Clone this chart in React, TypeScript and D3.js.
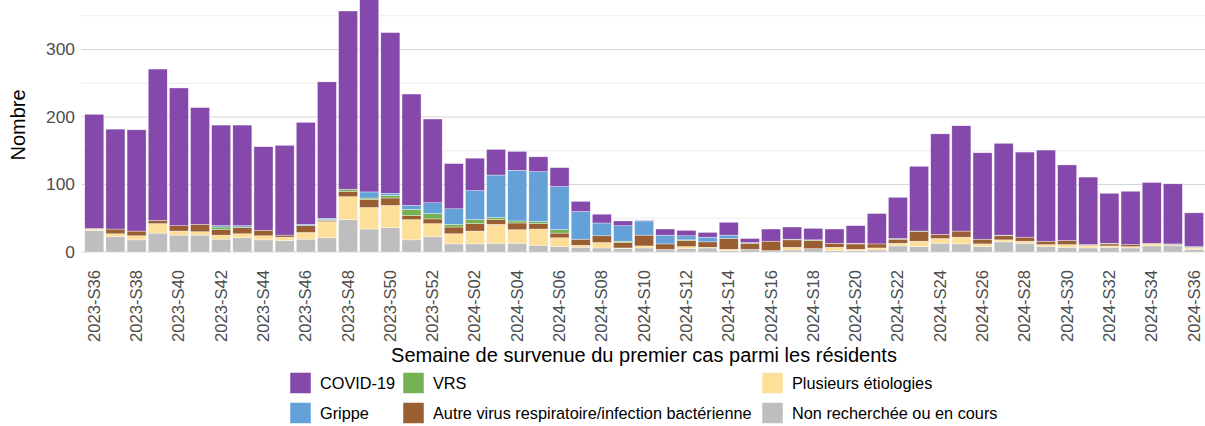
import React from "react";
import * as d3 from "d3";

const weeks = [
  "2023-S36","2023-S37","2023-S38","2023-S39","2023-S40","2023-S41","2023-S42","2023-S43","2023-S44","2023-S45",
  "2023-S46","2023-S47","2023-S48","2023-S49","2023-S50","2023-S51","2023-S52",
  "2024-S01","2024-S02","2024-S03","2024-S04","2024-S05","2024-S06","2024-S07","2024-S08","2024-S09","2024-S10",
  "2024-S11","2024-S12","2024-S13","2024-S14","2024-S15","2024-S16","2024-S17","2024-S18","2024-S19","2024-S20",
  "2024-S21","2024-S22","2024-S23","2024-S24","2024-S25","2024-S26","2024-S27","2024-S28","2024-S29","2024-S30",
  "2024-S31","2024-S32","2024-S33","2024-S34","2024-S35","2024-S36",
];

const nonRecherchee = [32,23,18,28,25,25,19,21,18,17,19,21,48,34,36,18,23,12,12,13,13,10,8,7,6,5,6,4,5,6,2,4,2,3,5,2,2,3,9,8,13,12,8,15,13,8,7,6,7,6,9,10,4];
const plusieurs = [2,4,6,14,6,5,6,6,6,5,10,24,34,32,33,30,19,15,19,28,20,24,13,3,8,1,3,0,3,1,2,0,0,4,0,5,2,3,4,8,7,10,4,3,3,3,4,3,2,2,3,1,2];
const autre = [1,7,7,5,8,11,8,9,8,3,10,2,8,12,11,6,7,10,11,7,10,8,7,9,10,8,16,8,9,8,16,9,14,11,12,6,8,6,6,14,6,9,7,6,6,5,6,1,3,3,1,1,1];
const vrs = [0,0,0,0,0,0,4,1,0,0,0,1,3,2,4,9,8,4,6,3,3,3,5,0,0,2,0,0,1,0,0,0,0,1,1,0,1,0,1,1,0,0,0,1,0,0,0,1,1,0,0,0,1];
const grippe = [0,0,0,0,0,0,2,2,0,0,2,2,0,9,3,6,16,23,43,63,75,74,64,41,19,23,21,13,6,7,5,1,0,0,0,0,0,0,0,0,0,0,0,0,0,0,0,0,0,0,0,0,0];
const covid = [169,148,150,224,204,173,149,149,124,133,151,202,264,291,238,165,124,67,48,38,28,22,28,15,13,7,1,9,8,7,19,6,18,18,17,21,26,45,61,96,149,156,128,136,126,135,112,100,74,79,90,89,50];

const seriesKeys = ["nonRecherchee", "plusieurs", "autre", "vrs", "grippe", "covid"];
const seriesColors: Record<string, string> = {
  covid: "#8449AB",
  grippe: "#65A1D9",
  vrs: "#76B154",
  autre: "#9A5E33",
  plusieurs: "#FEDF99",
  nonRecherchee: "#BEBEBE",
};
const legendRows = [
  [
    { key: "covid", label: "COVID-19" },
    { key: "vrs", label: "VRS" },
    { key: "plusieurs", label: "Plusieurs étiologies" },
  ],
  [
    { key: "grippe", label: "Grippe" },
    { key: "autre", label: "Autre virus respiratoire/infection bactérienne" },
    { key: "nonRecherchee", label: "Non recherchée ou en cours" },
  ],
];
const yMajor = [0, 100, 200, 300];
const yMinor = [50, 150, 250, 350];

const W = 1205;
const H = 426;
const FONT = "'Liberation Sans', Arial, sans-serif";

export default function App() {
  const rows = weeks.map((w, i) => ({
    week: w,
    nonRecherchee: nonRecherchee[i],
    plusieurs: plusieurs[i],
    autre: autre[i],
    vrs: vrs[i],
    grippe: grippe[i],
    covid: covid[i],
  }));
  const stacked = d3.stack<any>().keys(seriesKeys)(rows);

  const x = d3.scaleBand<string>().domain(weeks).range([81.6, 1206.7]).paddingInner(0.1).paddingOuter(0.15);
  const y = d3.scaleLinear().domain([0, 373.3]).range([252, 0]);

  const colX = [290, 403, 762];
  const rowY = [383, 413];

  return (
    <svg width={W} height={H} style={{ position: "absolute", left: 0, top: 0, background: "#fff" }} fontFamily={FONT}>
      <defs>
        <clipPath id="panel">
          <rect x={81} y={0} width={W - 81} height={253} />
        </clipPath>
      </defs>
      {yMinor.map((v) => (
        <line key={"mi" + v} x1={81.6} x2={W} y1={y(v)} y2={y(v)} stroke="#EBEBEB" strokeWidth={1.1} />
      ))}
      {yMajor.map((v) => (
        <line key={"ma" + v} x1={81.6} x2={W} y1={y(v)} y2={y(v)} stroke="#D6D6D6" strokeWidth={1.1} />
      ))}
      <g clipPath="url(#panel)">
        {stacked.map((s) => (
          <g key={s.key} fill={seriesColors[s.key]}>
            {s.map((d, i) =>
              d[1] - d[0] > 0 ? (
                <rect
                  key={i}
                  x={x(weeks[i])}
                  width={x.bandwidth()}
                  y={y(d[1])}
                  height={y(d[0]) - y(d[1])}
                  stroke="#fff"
                  strokeWidth={0.5}
                  strokeOpacity={0.7}
                />
              ) : null
            )}
          </g>
        ))}
      </g>
      {yMajor.map((v) => (
        <text key={"yl" + v} x={75} y={y(v)} textAnchor="end" dominantBaseline="central" fontSize={17.4} fill="#4D4D4D">
          {v}
        </text>
      ))}
      {weeks.map((w, i) =>
        i % 2 === 0 ? (
          <text
            key={"xl" + w}
            transform={`translate(${(x(w) as number) + x.bandwidth() / 2},270) rotate(-90)`}
            textAnchor="end"
            dominantBaseline="central"
            fontSize={16.6}
            fill="#4D4D4D"
          >
            {w}
          </text>
        ) : null
      )}
      <text transform="translate(18,125) rotate(-90)" textAnchor="middle" dominantBaseline="central" fontSize={20} fill="#000">
        Nombre
      </text>
      <text x={644} y={355} textAnchor="middle" dominantBaseline="central" fontSize={20} fill="#000">
        Semaine de survenue du premier cas parmi les résidents
      </text>
      {legendRows.map((row, ri) =>
        row.map((item, ci) => (
          <g key={item.key}>
            <rect x={colX[ci]} y={rowY[ri] - 10.5} width={21} height={21} fill={seriesColors[item.key]} stroke="#fff" strokeWidth={0.5} />
            <text x={colX[ci] + 30} y={rowY[ri]} dominantBaseline="central" fontSize={16.3} fill="#000">
              {item.label}
            </text>
          </g>
        ))
      )}
    </svg>
  );
}
